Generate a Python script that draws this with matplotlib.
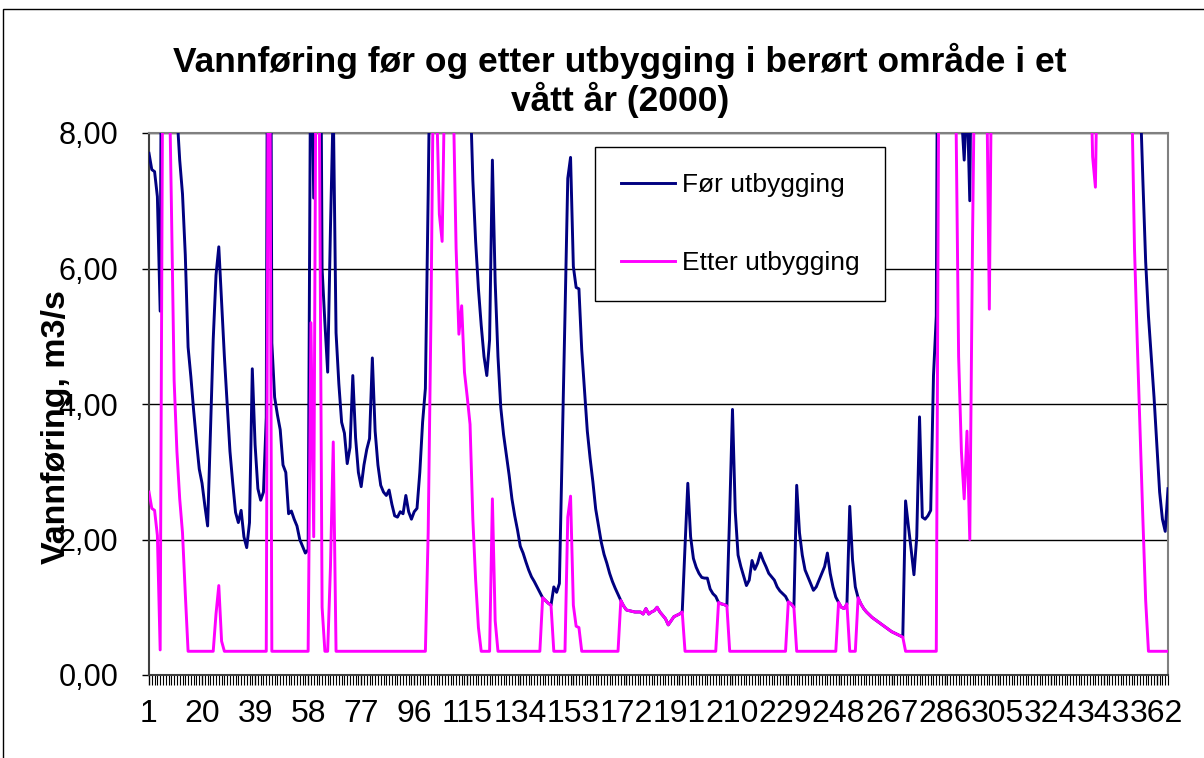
import matplotlib
matplotlib.use("Agg")
import matplotlib.pyplot as plt
from matplotlib.patches import Rectangle
import numpy as np

plt.rcParams['font.family'] = ['Liberation Sans', 'DejaVu Sans']

# daily discharge, day 1..366 of year 2000 (m3/s)
for_utbygging = [
    7.70, 7.46, 7.43, 7.06, 5.37, 15.0, 17.0, 14.5, 12.0, 9.35,      # 1-10
    8.30, 7.60, 7.10, 6.20, 4.84, 4.40, 3.90, 3.45, 3.04, 2.83,      # 11-20
    2.50, 2.20, 3.60, 4.95, 5.90, 6.32, 5.50, 4.70, 4.00, 3.30,      # 21-30
    2.83, 2.40, 2.25, 2.43, 2.04, 1.88, 2.25, 4.52, 3.40, 2.75,      # 31-40
    2.58, 2.70, 3.80, 18.0, 4.90, 4.10, 3.84, 3.62, 3.10, 2.99,      # 41-50
    2.38, 2.42, 2.30, 2.20, 2.00, 1.90, 1.80, 1.85, 10.2, 7.04,      # 51-60
    16.0, 13.5, 6.00, 5.20, 4.47, 6.60, 8.44, 5.05, 4.30, 3.73,      # 61-70
    3.57, 3.12, 3.36, 4.42, 3.50, 2.99, 2.78, 3.10, 3.33, 3.49,      # 71-80
    4.68, 3.60, 3.10, 2.80, 2.70, 2.65, 2.73, 2.52, 2.35, 2.33,      # 81-90
    2.41, 2.38, 2.65, 2.41, 2.30, 2.41, 2.46, 2.99, 3.73, 4.23,      # 91-100
    7.10, 10.3, 14.5, 13.5, 11.8, 11.4, 14.0, 17.0, 16.0, 13.5,      # 101-110
    11.3, 10.03, 10.45, 9.47, 9.10, 8.70, 7.30, 6.40, 5.70, 5.16,    # 111-120
    4.70, 4.42, 4.95, 7.60, 5.80, 4.70, 3.95, 3.55, 3.25, 2.95,      # 121-130
    2.60, 2.35, 2.14, 1.90, 1.80, 1.67, 1.55, 1.45, 1.38, 1.30,      # 131-140
    1.22, 1.14, 1.10, 1.06, 1.03, 1.30, 1.22, 1.35, 3.30, 5.30,      # 141-150
    7.33, 7.64, 6.03, 5.72, 5.70, 4.80, 4.20, 3.60, 3.20, 2.85,      # 151-160
    2.45, 2.20, 1.96, 1.78, 1.65, 1.50, 1.38, 1.28, 1.19, 1.10,      # 161-170
    1.02, 0.96, 0.95, 0.94, 0.93, 0.93, 0.93, 0.90, 0.98, 0.90,      # 171-180
    0.93, 0.95, 1.00, 0.93, 0.88, 0.83, 0.74, 0.80, 0.86, 0.88,      # 181-190
    0.90, 0.93, 1.90, 2.83, 2.04, 1.72, 1.59, 1.50, 1.44, 1.43,      # 191-200
    1.43, 1.27, 1.20, 1.16, 1.07, 1.05, 1.04, 1.02, 2.40, 3.92,      # 201-210
    2.41, 1.77, 1.60, 1.46, 1.32, 1.40, 1.69, 1.56, 1.65, 1.80,      # 211-220
    1.69, 1.60, 1.50, 1.45, 1.40, 1.30, 1.24, 1.20, 1.16, 1.08,      # 221-230
    1.05, 1.00, 2.80, 2.10, 1.77, 1.55, 1.45, 1.35, 1.25, 1.30,      # 231-240
    1.40, 1.50, 1.60, 1.80, 1.50, 1.30, 1.15, 1.07, 1.00, 0.98,      # 241-250
    1.05, 2.49, 1.70, 1.30, 1.14, 1.05, 0.98, 0.93, 0.89, 0.85,      # 251-260
    0.82, 0.79, 0.76, 0.73, 0.70, 0.67, 0.64, 0.62, 0.60, 0.58,      # 261-270
    0.56, 2.57, 2.20, 1.85, 1.48, 2.04, 3.81, 2.33, 2.30, 2.35,      # 271-280
    2.43, 4.42, 5.30, 15.0, 18.0, 17.0, 16.0, 17.0, 15.0, 13.5,      # 281-290
    9.70, 8.30, 7.60, 8.60, 7.00, 11.5, 15.0, 17.0, 16.0, 15.0,      # 291-300
    14.0, 10.4, 15.0, 17.0, 19.0, 18.0, 16.0, 15.0, 17.0, 19.0,      # 301-310
    20.0, 18.0, 16.0, 15.0, 14.0, 15.0, 17.0, 16.0, 15.0, 14.0,      # 311-320
    14.5, 16.0, 18.0, 17.0, 15.0, 14.0, 13.5, 14.0, 15.0, 16.0,      # 321-330
    15.0, 14.0, 13.5, 14.0, 15.0, 14.5, 14.0, 14.5, 12.65, 12.2,     # 331-340
    15.0, 17.0, 19.0, 18.0, 17.0, 16.0, 15.0, 16.0, 17.0, 16.0,      # 341-350
    15.0, 14.5, 13.6, 11.3, 9.90, 8.60, 7.30, 6.10, 5.30, 4.70,      # 351-360
    4.10, 3.40, 2.70, 2.30, 2.12, 2.75,                              # 361-366
]

etter_utbygging = [
    2.70, 2.46, 2.43, 2.06, 0.37, 10.0, 12.0, 9.50, 7.00, 4.35,      # 1-10
    3.30, 2.60, 2.10, 1.20, 0.35, 0.35, 0.35, 0.35, 0.35, 0.35,      # 11-20
    0.35, 0.35, 0.35, 0.35, 0.90, 1.32, 0.50, 0.35, 0.35, 0.35,      # 21-30
    0.35, 0.35, 0.35, 0.35, 0.35, 0.35, 0.35, 0.35, 0.35, 0.35,      # 31-40
    0.35, 0.35, 0.35, 13.0, 0.35, 0.35, 0.35, 0.35, 0.35, 0.35,      # 41-50
    0.35, 0.35, 0.35, 0.35, 0.35, 0.35, 0.35, 0.35, 5.20, 2.04,      # 51-60
    11.0, 8.50, 1.00, 0.35, 0.35, 1.60, 3.44, 0.35, 0.35, 0.35,      # 61-70
    0.35, 0.35, 0.35, 0.35, 0.35, 0.35, 0.35, 0.35, 0.35, 0.35,      # 71-80
    0.35, 0.35, 0.35, 0.35, 0.35, 0.35, 0.35, 0.35, 0.35, 0.35,      # 81-90
    0.35, 0.35, 0.35, 0.35, 0.35, 0.35, 0.35, 0.35, 0.35, 0.35,      # 91-100
    2.10, 5.30, 9.50, 8.50, 6.80, 6.40, 9.00, 12.0, 11.0, 8.50,      # 101-110
    6.30, 5.03, 5.45, 4.47, 4.10, 3.70, 2.30, 1.40, 0.70, 0.35,      # 111-120
    0.35, 0.35, 0.35, 2.60, 0.80, 0.35, 0.35, 0.35, 0.35, 0.35,      # 121-130
    0.35, 0.35, 0.35, 0.35, 0.35, 0.35, 0.35, 0.35, 0.35, 0.35,      # 131-140
    0.35, 1.14, 1.10, 1.06, 1.03, 0.35, 0.35, 0.35, 0.35, 0.35,      # 141-150
    2.33, 2.64, 1.03, 0.72, 0.70, 0.35, 0.35, 0.35, 0.35, 0.35,      # 151-160
    0.35, 0.35, 0.35, 0.35, 0.35, 0.35, 0.35, 0.35, 0.35, 1.10,      # 161-170
    1.02, 0.96, 0.95, 0.94, 0.93, 0.93, 0.93, 0.90, 0.98, 0.90,      # 171-180
    0.93, 0.95, 1.00, 0.93, 0.88, 0.83, 0.74, 0.80, 0.86, 0.88,      # 181-190
    0.90, 0.93, 0.35, 0.35, 0.35, 0.35, 0.35, 0.35, 0.35, 0.35,      # 191-200
    0.35, 0.35, 0.35, 0.35, 1.07, 1.05, 1.04, 1.02, 0.35, 0.35,      # 201-210
    0.35, 0.35, 0.35, 0.35, 0.35, 0.35, 0.35, 0.35, 0.35, 0.35,      # 211-220
    0.35, 0.35, 0.35, 0.35, 0.35, 0.35, 0.35, 0.35, 0.35, 1.08,      # 221-230
    1.05, 1.00, 0.35, 0.35, 0.35, 0.35, 0.35, 0.35, 0.35, 0.35,      # 231-240
    0.35, 0.35, 0.35, 0.35, 0.35, 0.35, 0.35, 1.07, 1.00, 0.98,      # 241-250
    1.05, 0.35, 0.35, 0.35, 1.14, 1.05, 0.98, 0.93, 0.89, 0.85,      # 251-260
    0.82, 0.79, 0.76, 0.73, 0.70, 0.67, 0.64, 0.62, 0.60, 0.58,      # 261-270
    0.56, 0.35, 0.35, 0.35, 0.35, 0.35, 0.35, 0.35, 0.35, 0.35,      # 271-280
    0.35, 0.35, 0.35, 10.0, 13.0, 12.0, 11.0, 12.0, 10.0, 8.50,      # 281-290
    4.70, 3.30, 2.60, 3.60, 2.00, 6.50, 10.0, 12.0, 11.0, 10.0,      # 291-300
    9.00, 5.40, 10.0, 12.0, 14.0, 13.0, 11.0, 10.0, 12.0, 14.0,      # 301-310
    15.0, 13.0, 11.0, 10.0, 9.00, 10.0, 12.0, 11.0, 10.0, 9.00,      # 311-320
    9.50, 11.0, 13.0, 12.0, 10.0, 9.00, 8.50, 9.00, 10.0, 11.0,      # 321-330
    10.0, 9.00, 8.50, 9.00, 10.0, 9.50, 9.00, 9.50, 7.65, 7.20,      # 331-340
    10.0, 12.0, 14.0, 13.0, 12.0, 11.0, 10.0, 11.0, 12.0, 11.0,      # 341-350
    10.0, 9.50, 8.60, 6.30, 4.90, 3.60, 2.30, 1.10, 0.35, 0.35,      # 351-360
    0.35, 0.35, 0.35, 0.35, 0.35, 0.35,                              # 361-366
]

x_tick_days = [1, 20, 39, 58, 77, 96, 115, 134, 153, 172, 191, 210,
               229, 248, 267, 286, 305, 324, 343, 362]
y_ticks = [0, 2, 4, 6, 8]
y_tick_labels = ['0,00', '2,00', '4,00', '6,00', '8,00']

days = np.arange(1, len(for_utbygging) + 1)

W, H = 1204, 758
fig = plt.figure(figsize=(W / 100, H / 100), dpi=100)
fig.patch.set_facecolor('white')

# chart area border (cut off at right/bottom like the original)
fig.patches.append(Rectangle((3 / W, -0.1), 1.2, 1 - 9 / H + 0.1,
                             transform=fig.transFigure, fill=False,
                             edgecolor='black', linewidth=1.0))

left, right, top, bottom = 149, 1168, 133, 675
ax = fig.add_axes([left / W, 1 - bottom / H, (right - left) / W, (bottom - top) / H])

ax.plot(days, for_utbygging, color='#000080', linewidth=2.1, label='Før utbygging', zorder=3)
ax.plot(days, etter_utbygging, color='#FF00FF', linewidth=2.1, label='Etter utbygging', zorder=4)

ax.set_xlim(1, 366)
ax.set_ylim(0, 8)

ax.set_yticks(y_ticks)
ax.set_yticklabels(y_tick_labels)
ax.set_xticks(x_tick_days)
ax.set_xticklabels([str(d) for d in x_tick_days])
ax.set_xticks(days, minor=True)

ax.tick_params(axis='y', labelsize=22, direction='out', length=5, width=1, pad=17)
ax.tick_params(axis='x', which='major', labelsize=23, direction='out', length=7, width=1, pad=10)
ax.tick_params(axis='x', which='minor', direction='out', length=7, width=0.8)

ax.grid(axis='y', color='black', linewidth=1.0)
ax.set_axisbelow(True)

for side in ['top', 'right']:
    ax.spines[side].set_color('#808080')
    ax.spines[side].set_linewidth(1.5)
for side in ['left', 'bottom']:
    ax.spines[side].set_color('#404040')
    ax.spines[side].set_linewidth(1.5)

fig.text(620 / W, 1 - 80 / H,
         'Vannføring før og etter utbygging i berørt område i et\nvått år (2000)',
         ha='center', va='center', fontsize=25.5, fontweight='bold', linespacing=1.1)

fig.text(57 / W, 1 - 427 / H, 'Vannføring, m3/s', rotation=90,
         ha='center', va='center', fontsize=24.5, fontweight='bold')

leg = ax.legend(loc='upper left', bbox_to_anchor=(595 / W, 1 - 147 / H),
                bbox_transform=fig.transFigure, fontsize=19, frameon=True,
                fancybox=False, framealpha=1, edgecolor='black',
                borderpad=0.98, labelspacing=2.05, handlelength=2.05,
                handletextpad=0.25, borderaxespad=0)
leg.get_frame().set_linewidth(1.0)

fig.savefig('out.png', dpi=100)
